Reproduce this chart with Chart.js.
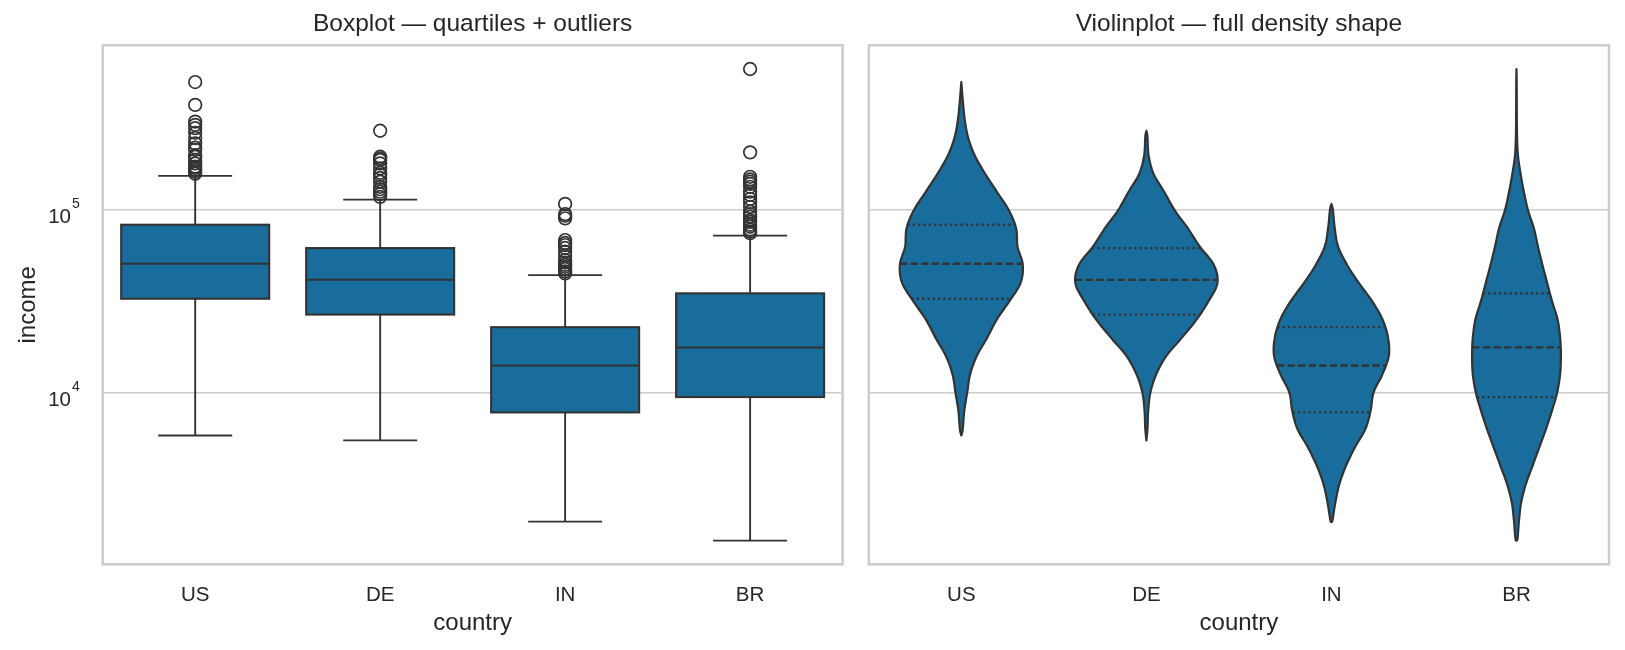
<!DOCTYPE html>
<html lang="en">
<head>
<meta charset="UTF-8">
<title>Income by country</title>
<script src="https://cdn.jsdelivr.net/npm/chart.js@4.4.1/dist/chart.umd.min.js"></script>
<style>
  body { margin: 0; background: #fff; }
  #wrap { position: relative; width: 1625px; height: 650px; }
  canvas { position: absolute; top: 0; }
  #boxCanvas { left: 0; }
  #violinCanvas { left: 855px; }
</style>
</head>
<body>
<div id="wrap">
  <canvas id="boxCanvas" width="855" height="650"></canvas>
  <canvas id="violinCanvas" width="770" height="650"></canvas>
</div>
<script>
// values
const countries = ['US', 'DE', 'IN', 'BR'];
const yTicks = [1e4, 1e5];

// box stats (income)
const whiskerLow = [5800, 5450, 1955, 1538];
const quart1 = [32600, 26700, 7760, 9420];
const medians = [50700, 41400, 14030, 17620];
const quart3 = [83000, 61800, 22760, 34900];
const whiskerHigh = [153800, 113900, 43900, 72300];

const outliersUS = [503000, 377000, 305000, 293000, 281000, 265000, 248000, 232000, 220000, 214000,
  200000, 196000, 188000, 180000, 173000, 170000, 166000, 162000, 158000];
const outliersDE = [272000, 196000, 192000, 188000, 180000, 169000, 160000, 156000, 150000, 143000,
  134000, 130000, 126000, 122000, 118000];
const outliersIN = [108000, 95000, 93000, 90000, 68400, 66000, 64200, 62000, 59000, 56000, 53100,
  51500, 50000, 48800, 47500, 46000, 44900];
const outliersBR = [593000, 207000, 152000, 147000, 143000, 139000, 134000, 126000, 121000, 115000,
  110000, 104000, 98000, 95000, 91900, 88000, 86000, 83000, 80900, 78000, 76000, 74500];

// violin density profiles: log10(income) levels and relative width (1 = full 0.8 slot)
const levelsUS = [3.8, 3.9, 4.0, 4.1, 4.2, 4.3, 4.4, 4.5, 4.6, 4.7, 4.8, 4.9, 5.0, 5.1, 5.2, 5.3, 5.4, 5.5, 5.6];
const densityUS = [0.02, 0.04, 0.08, 0.12, 0.21, 0.35, 0.48, 0.65, 0.80, 0.83, 0.76, 0.74, 0.64, 0.48, 0.32, 0.18, 0.09, 0.045, 0.02];
const levelsDE = [3.8, 3.9, 4.0, 4.1, 4.2, 4.3, 4.4, 4.5, 4.6, 4.7, 4.8, 4.9, 5.0, 5.1, 5.2, 5.3, 5.4];
const densityDE = [0.015, 0.025, 0.055, 0.135, 0.27, 0.48, 0.68, 0.84, 0.96, 0.91, 0.72, 0.56, 0.38, 0.24, 0.095, 0.03, 0.015];
const levelsIN = [3.3, 3.4, 3.5, 3.6, 3.7, 3.8, 3.9, 4.0, 4.1, 4.2, 4.3, 4.4, 4.5, 4.6, 4.7, 4.8, 4.9, 5.0];
const densityIN = [0.015, 0.055, 0.11, 0.20, 0.32, 0.46, 0.53, 0.57, 0.69, 0.775, 0.765, 0.69, 0.55, 0.37, 0.21, 0.09, 0.045, 0.02];
const levelsBR = [3.2, 3.3, 3.4, 3.5, 3.6, 3.7, 3.8, 3.9, 4.0, 4.1, 4.2, 4.3, 4.4, 4.5, 4.6, 4.7, 4.8, 4.9, 5.0, 5.1, 5.2, 5.3, 5.4, 5.5, 5.6, 5.7];
const densityBR = [0.015, 0.035, 0.065, 0.13, 0.22, 0.31, 0.40, 0.48, 0.55, 0.59, 0.60, 0.59, 0.555, 0.48, 0.415, 0.35, 0.29, 0.235, 0.155, 0.10, 0.055, 0.02, 0.008, 0.005, 0.004, 0.003];

const outliers = [outliersUS, outliersDE, outliersIN, outliersBR];
const levels = [levelsUS, levelsDE, levelsIN, levelsBR];
const density = [densityUS, densityDE, densityIN, densityBR];

const FILL = '#186d9c';
const INK = '#333333';
const GRID = '#cccccc';
const TEXT = '#262626';
const FONT = '"Liberation Sans", Arial, sans-serif';

Chart.defaults.font.family = FONT;
Chart.defaults.color = TEXT;

function seg(ctx, x1, y1, x2, y2) {
  ctx.beginPath();
  ctx.moveTo(x1, y1);
  ctx.lineTo(x2, y2);
  ctx.stroke();
}

// light grey frame round the plot area (all four spines)
const frame = {
  id: 'frame',
  afterDraw(chart) {
    const {ctx, chartArea: a} = chart;
    ctx.save();
    ctx.strokeStyle = GRID;
    ctx.lineWidth = 2.5;
    ctx.strokeRect(a.left, a.top, a.right - a.left, a.bottom - a.top);
    ctx.restore();
  }
};

// y tick labels written as 10 with a raised exponent
const powerTicks = {
  id: 'powerTicks',
  afterDraw(chart) {
    const {ctx} = chart;
    const y = chart.scales.y;
    const right = chart.chartArea.left - 31.7;
    ctx.save();
    ctx.fillStyle = TEXT;
    ctx.textBaseline = 'alphabetic';
    y.ticks.forEach(t => {
      const py = y.getPixelForValue(t.value);
      ctx.font = '20.5px ' + FONT;
      ctx.textAlign = 'right';
      ctx.fillText('10', right, py + 13.3);
      ctx.font = '14px ' + FONT;
      ctx.textAlign = 'left';
      ctx.fillText(String(Math.round(Math.log10(t.value))), right + 1, py - 1.7);
    });
    ctx.restore();
  }
};

const boxes = {
  id: 'boxes',
  beforeDatasetsDraw(chart) {
    const {ctx, scales: {x, y}} = chart;
    ctx.save();
    ctx.strokeStyle = INK;
    countries.forEach((c, i) => {
      const cx = x.getPixelForValue(i);
      const l = x.getPixelForValue(i - 0.4), r = x.getPixelForValue(i + 0.4);
      const capL = x.getPixelForValue(i - 0.2), capR = x.getPixelForValue(i + 0.2);
      const yLo = y.getPixelForValue(whiskerLow[i]);
      const yQ1 = y.getPixelForValue(quart1[i]);
      const yMed = y.getPixelForValue(medians[i]);
      const yQ3 = y.getPixelForValue(quart3[i]);
      const yHi = y.getPixelForValue(whiskerHigh[i]);

      ctx.lineWidth = 1.9;
      seg(ctx, cx, yQ3, cx, yHi);
      seg(ctx, cx, yQ1, cx, yLo);
      seg(ctx, capL, yHi, capR, yHi);
      seg(ctx, capL, yLo, capR, yLo);

      ctx.fillStyle = FILL;
      ctx.fillRect(l, yQ3, r - l, yQ1 - yQ3);
      ctx.lineWidth = 2.1;
      ctx.strokeRect(l, yQ3, r - l, yQ1 - yQ3);
      seg(ctx, l, yMed, r, yMed);
    });
    ctx.restore();
  }
};

function catmull(a, b, c, d, t) {
  return 0.5 * (2 * b + (c - a) * t + (2 * a - 5 * b + 4 * c - d) * t * t + (3 * b - a - 3 * c + d) * t * t * t);
}

// smooth outline: [log10 income, relative width] from data min to data max
function profile(i) {
  const lv = [Math.log10(whiskerLow[i])].concat(levels[i], [Math.log10(Math.max(...outliers[i]))]);
  const dv = [0].concat(density[i], [0]);
  const pts = [];
  for (let k = 0; k < lv.length - 1; k++) {
    const k0 = Math.max(k - 1, 0), k3 = Math.min(k + 2, lv.length - 1);
    for (let s = 0; s < 12; s++) {
      const t = s / 12;
      pts.push([catmull(lv[k0], lv[k], lv[k + 1], lv[k3], t),
        Math.max(0, catmull(dv[k0], dv[k], dv[k + 1], dv[k3], t))]);
    }
  }
  pts.push([lv[lv.length - 1], 0]);
  return pts;
}

function widthAt(pts, lg) {
  for (let k = 0; k < pts.length - 1; k++) {
    const a = pts[k], b = pts[k + 1];
    if ((lg - a[0]) * (lg - b[0]) <= 0 && a[0] !== b[0]) {
      return a[1] + (b[1] - a[1]) * (lg - a[0]) / (b[0] - a[0]);
    }
  }
  return 0;
}

const violins = {
  id: 'violins',
  beforeDatasetsDraw(chart) {
    const {ctx, scales: {x, y}} = chart;
    ctx.save();
    countries.forEach((c, i) => {
      const pts = profile(i);
      ctx.beginPath();
      pts.forEach((p, k) => {
        const px = x.getPixelForValue(i + p[1] * 0.4), py = y.getPixelForValue(Math.pow(10, p[0]));
        if (k === 0) ctx.moveTo(px, py); else ctx.lineTo(px, py);
      });
      for (let k = pts.length - 1; k >= 0; k--) {
        const p = pts[k];
        ctx.lineTo(x.getPixelForValue(i - p[1] * 0.4), y.getPixelForValue(Math.pow(10, p[0])));
      }
      ctx.closePath();
      ctx.fillStyle = FILL;
      ctx.fill();
      ctx.strokeStyle = INK;
      ctx.lineWidth = 2.2;
      ctx.lineJoin = 'round';
      ctx.stroke();

      // inner quartile lines
      [[quart1[i], [2.2, 3.1]], [medians[i], [7.4, 3.2]], [quart3[i], [2.2, 3.1]]].forEach(([v, dash]) => {
        const w = widthAt(pts, Math.log10(v));
        const py = y.getPixelForValue(v);
        ctx.setLineDash(dash);
        ctx.lineWidth = 2.3;
        seg(ctx, x.getPixelForValue(i - w * 0.4), py, x.getPixelForValue(i + w * 0.4), py);
      });
      ctx.setLineDash([]);
    });
    ctx.restore();
  }
};

function makeScales(yWidth, showIncome) {
  return {
    x: {
      type: 'linear',
      min: -0.5,
      max: 3.5,
      bounds: 'data',
      afterBuildTicks: s => { s.ticks = countries.map((c, i) => ({value: i})); },
      afterFit: s => { s.height = 85.7; },
      grid: {display: false},
      border: {display: false},
      ticks: {
        padding: 10.6,
        font: {size: 20.5},
        color: TEXT,
        callback: v => countries[v]
      },
      title: {display: true, text: 'country', font: {size: 24}, color: TEXT, padding: {bottom: 12.3}}
    },
    y: {
      type: 'logarithmic',
      min: 1140,
      max: 800000,
      bounds: 'data',
      afterBuildTicks: s => { s.ticks = yTicks.map(v => ({value: v})); },
      afterFit: s => { s.width = yWidth; },
      grid: {color: GRID, lineWidth: 1.5, drawTicks: false},
      border: {display: false},
      ticks: {display: false},
      title: {display: showIncome, text: 'income', font: {size: 24}, color: TEXT, padding: {top: 14.3}}
    }
  };
}

function titleOpts(text) {
  return {
    display: true,
    text: text,
    fullSize: false,
    color: TEXT,
    font: {size: 24.5, weight: 'normal'},
    padding: {top: 9.8, bottom: 6.1}
  };
}

new Chart(document.getElementById('boxCanvas'), {
  type: 'scatter',
  data: {
    datasets: [{
      label: 'outliers',
      data: outliers.flatMap((list, i) => list.map(v => ({x: i, y: v}))),
      pointStyle: 'circle',
      pointRadius: 6.3,
      pointBorderWidth: 1.7,
      pointBorderColor: INK,
      pointBackgroundColor: 'rgba(0,0,0,0)'
    }]
  },
  options: {
    responsive: false,
    animation: false,
    layout: {padding: {left: 0, right: 12.4, top: 0, bottom: 0}},
    plugins: {
      legend: {display: false},
      tooltip: {enabled: false},
      title: titleOpts('Boxplot — quartiles + outliers')
    },
    scales: makeScales(102.7, true)
  },
  plugins: [boxes, frame, powerTicks]
});

new Chart(document.getElementById('violinCanvas'), {
  type: 'scatter',
  data: {datasets: []},
  options: {
    responsive: false,
    animation: false,
    layout: {padding: {left: 0, right: 16, top: 0, bottom: 0}},
    plugins: {
      legend: {display: false},
      tooltip: {enabled: false},
      title: titleOpts('Violinplot — full density shape')
    },
    scales: makeScales(13.8, false)
  },
  plugins: [violins, frame]
});
</script>
</body>
</html>
